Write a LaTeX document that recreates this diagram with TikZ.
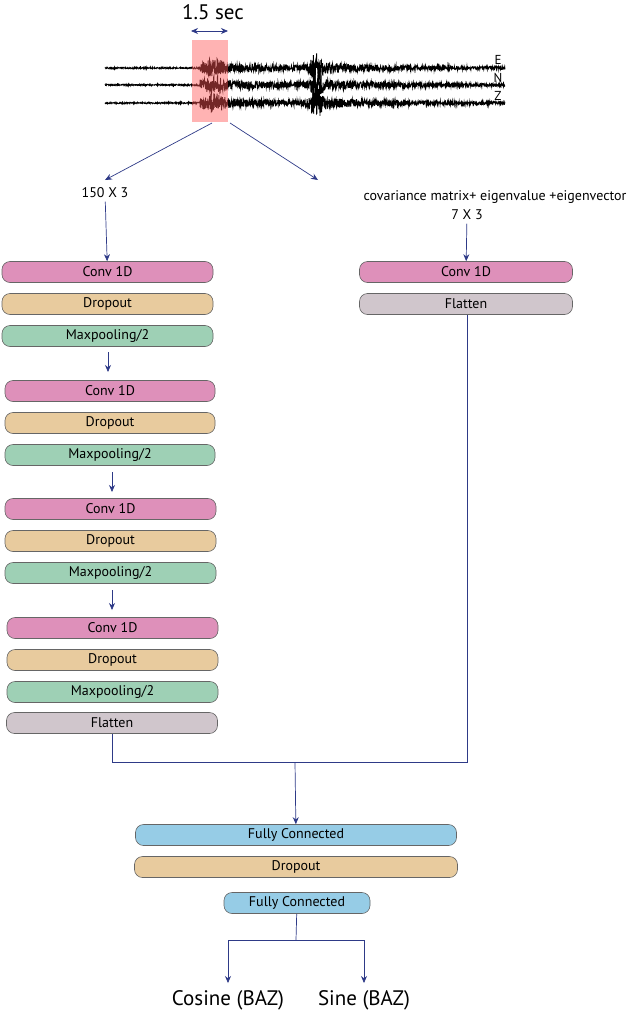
\documentclass[tikz,border=0pt]{standalone}
\usepackage{fontspec}
\setmainfont{PT Sans}
\usetikzlibrary{arrows.meta}
\definecolor{cpink}{HTML}{DE90BA}
\definecolor{ctan}{HTML}{E8CB9E}
\definecolor{cgreen}{HTML}{9ED0B5}
\definecolor{cgray}{HTML}{D0C6CC}
\definecolor{cblue}{HTML}{96CCE6}
\definecolor{navy}{HTML}{2E3A87}
\begin{document}
\begin{tikzpicture}[x=1pt,y=-1pt,
 blk/.style={draw=gray!80!black,line width=0.6pt,rounded corners=8pt,minimum height=21pt,inner sep=0pt,font=\fontsize{14}{15}\selectfont},
 arr/.style={draw=navy,line width=0.7pt,-{Stealth[length=7pt,width=6pt]}},
 ln/.style={draw=navy,line width=0.7pt}]
\useasboundingbox (0,0) rectangle (640,1017);
% seismogram
\pgfmathsetseed{7}
\foreach \yy in {68,85,103}{
 \draw[line width=0.9pt] plot[domain=105:505,samples=1400,variable=\x]
  (\x,{\yy + (0.7 + (\x>200)*(4.5*exp(-(\x-200)/150)) + 5*exp(-((\x-215)/9)^2) + 13*exp(-((\x-316)/6)^2) + (\x>316)*(3*exp(-(\x-316)/60)))*rand});
}
\fill[red!55!pink,opacity=0.45] (192,40) rectangle (228,122);
\node[font=\fontsize{13}{13}\selectfont] (e) at (498,60) {E};
\node[font=\fontsize{13}{13}\selectfont] (n) at (498,78) {N};
\node[font=\fontsize{13}{13}\selectfont] (z) at (498,96) {Z};
\node[font=\fontsize{21}{22}\selectfont] (sec) at (213,12) {1.5 sec};
\coordinate (s1) at (191,31); \coordinate (s2) at (228,31);
\draw[navy,line width=0.8pt,{Stealth[length=7pt,width=6pt]}-{Stealth[length=7pt,width=6pt]}] (s1) -- (s2);
\coordinate (w1) at (212,123); \coordinate (w2) at (230,123);
\node[font=\fontsize{14}{15}\selectfont] (t1) at (105,193) {150 X 3};
\node[font=\fontsize{14}{15}\selectfont] (t2) at (495,197) {covariance matrix+ eigenvalue +eigenvector};
\node[font=\fontsize{14}{15}\selectfont] (t3) at (467,215) {7 X 3};
\draw[arr] (w1) -- (105,180);
\draw[arr] (w2) -- (318,180);
% left column
\foreach \i/\y/\xa/\xb in {1/272/2/213,2/391/5/215,3/509/5/216,4/628/7/218}{
 \node[blk,fill=cpink,minimum width={\xb-\xa}] (c\i) at ({(\xa+\xb)/2},\y) {Conv 1D};
 \node[blk,fill=ctan,minimum width={\xb-\xa}] (d\i) at ({(\xa+\xb)/2},\y+32) {Dropout};
 \node[blk,fill=cgreen,minimum width={\xb-\xa}] (m\i) at ({(\xa+\xb)/2},\y+64) {Maxpooling/2};
}
\node[blk,fill=cgray,minimum width=211] (fl) at (112,723) {Flatten};
\draw[arr] (t1) -- (c1);
\draw[arr] (108,352) -- (108,372);
\draw[arr] (112,472) -- (112,492);
\draw[arr] (112,590) -- (112,610);
% right column
\node[blk,fill=cpink,minimum width=213] (rc) at (466,272) {Conv 1D};
\node[blk,fill=cgray,minimum width=213] (rf) at (466,304) {Flatten};
\draw[arr] (t3) -- (rc);
\coordinate (j) at (295,762);
\draw[ln] (fl.south) -- (112,762) -- (467,762) -- (467,315);
% bottom
\node[blk,fill=cblue,minimum width=321] (fc1) at (296,835) {Fully Connected};
\node[blk,fill=ctan,minimum width=323] (dd) at (296,867) {Dropout};
\node[blk,fill=cblue,minimum width=146] (fc2) at (297,903) {Fully Connected};
\draw[arr] (j) -- (fc1);
\coordinate (b) at (296,940);
\draw[ln] (fc2) -- (b);
\node[font=\fontsize{21}{22}\selectfont] (cos) at (228,1000) {Cosine (BAZ)};
\node[font=\fontsize{21}{22}\selectfont] (sin) at (364,1000) {Sine (BAZ)};
\draw[arr] (b) -- (228,940) -- (228,983);
\draw[arr] (b) -- (364,940) -- (364,983);
\end{tikzpicture}
\end{document}
